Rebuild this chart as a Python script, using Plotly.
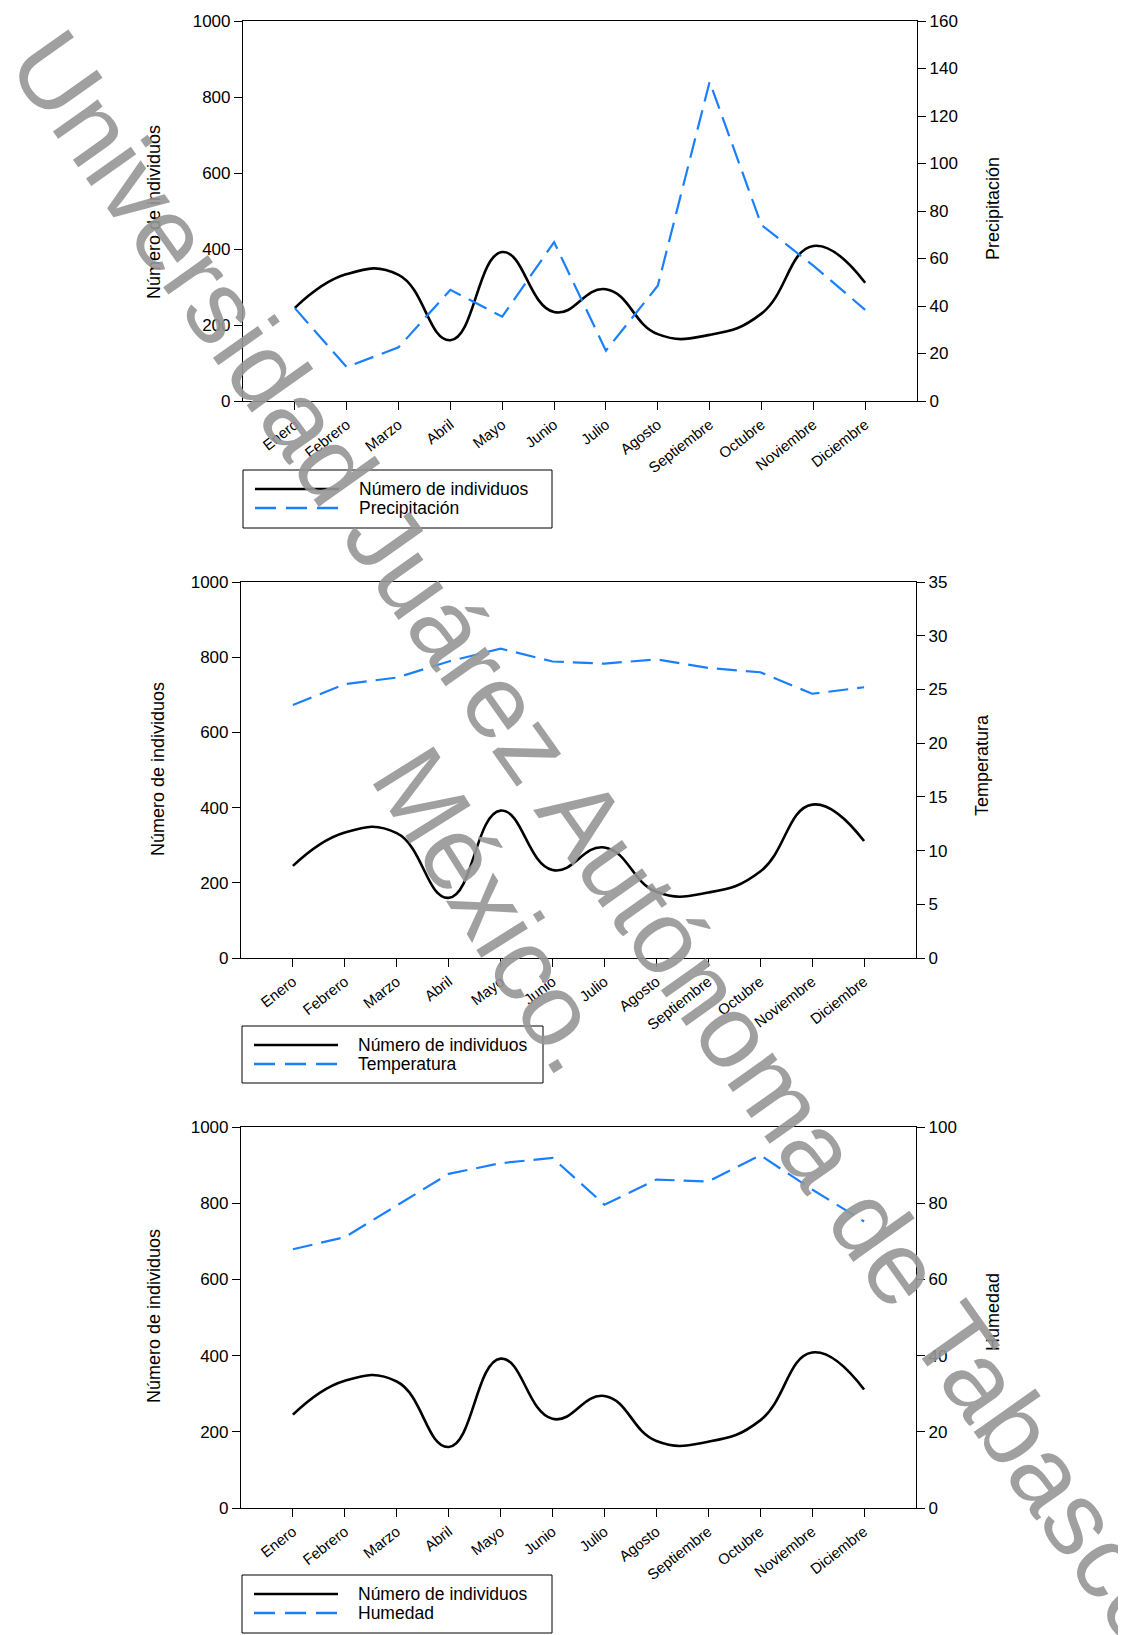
import plotly.graph_objects as go

months = ["Enero", "Febrero", "Marzo", "Abril", "Mayo", "Junio", "Julio",
          "Agosto", "Septiembre", "Octubre", "Noviembre", "Diciembre"]
individuos = [245, 334, 332, 160, 392, 234, 294, 176, 174, 230, 408, 311]
precipitacion = [39.1, 14.3, 22.6, 46.8, 35.5, 66.9, 21.2, 48.5, 134.4, 74.1, 57.0, 38.4]
temperatura = [23.55, 25.5, 26.1, 27.6, 28.8, 27.6, 27.4, 27.8, 27.0, 26.6, 24.6, 25.2]
humedad = [67.9, 71.1, 79.4, 87.7, 90.5, 91.9, 79.6, 86.2, 85.7, 92.6, 83.6, 75.2]

W, H = 1126, 1635
OFF = 8  # page body margin
FONT = "Liberation Sans, Arial, sans-serif"
BLUE = "#1a7fff"
DASH = "20px,9px"
xidx = list(range(len(months)))


def px(v):
    return (v - OFF) / W


def py(v):
    return 1 - (v - OFF) / H


panels = [
    dict(l=243, r=917, t=21, b=401, data=precipitacion, name="Precipitación",
         rng=[0, 160], dtick=20, ltx=154, rtx=993, ty=212,
         box=(243, 470, 552, 528), rows=(489, 508)),
    dict(l=241, r=916, t=582, b=958, data=temperatura, name="Temperatura",
         rng=[0, 35], dtick=5, ltx=158, rtx=982, ty=769,
         box=(242, 1026, 543, 1083), rows=(1045, 1064)),
    dict(l=241, r=916, t=1127, b=1508, data=humedad, name="Humedad",
         rng=[0, 100], dtick=20, ltx=154, rtx=993, ty=1316,
         box=(242, 1575, 552, 1633), rows=(1594, 1613)),
]

fig = go.Figure()
annotations = []
shapes = []
layout = dict(
    width=W, height=H,
    margin=dict(l=0, r=0, t=0, b=0, autoexpand=False),
    paper_bgcolor="white", plot_bgcolor="white",
    font=dict(family=FONT, size=16, color="black"),
    showlegend=False,
)

for i, p in enumerate(panels):
    n = i + 1
    xa = "x" if n == 1 else f"x{n}"
    ya_l = "y" if n == 1 else f"y{2*n-1}"
    ya_r = f"y{2*n}"

    fig.add_trace(go.Scatter(
        x=xidx, y=individuos, mode="lines", name="Número de individuos",
        line=dict(color="black", width=2.6, shape="spline", smoothing=1.3),
        xaxis=xa, yaxis=ya_l))
    fig.add_trace(go.Scatter(
        x=xidx, y=p["data"], mode="lines", name=p["name"],
        line=dict(color=BLUE, width=2.2, dash=DASH),
        xaxis=xa, yaxis=ya_r))

    xkey = "xaxis" if n == 1 else f"xaxis{n}"
    ylkey = "yaxis" if n == 1 else f"yaxis{2*n-1}"
    yrkey = f"yaxis{2*n}"
    layout[xkey] = dict(
        domain=[px(p["l"]), px(p["r"])], anchor=ya_l,
        range=[-1, 12], tickvals=xidx, ticktext=months, tickangle=-38,
        ticks="outside", ticklen=8, tickcolor="black", showgrid=False,
        zeroline=False, showline=True, linecolor="black", linewidth=1.2,
        mirror=True, tickfont=dict(size=15, family=FONT), automargin=False)
    layout[ylkey] = dict(
        domain=[py(p["b"]), py(p["t"])], anchor=xa, range=[0, 1000], dtick=200,
        ticks="outside", ticklen=8, tickcolor="black", showgrid=False,
        zeroline=False, showline=True, linecolor="black", linewidth=1.2,
        tickfont=dict(size=17, family=FONT), automargin=False)
    layout[yrkey] = dict(
        overlaying=ya_l, side="right", anchor=xa, range=p["rng"], dtick=p["dtick"],
        ticks="outside", ticklen=8, tickcolor="black", showgrid=False,
        zeroline=False, showline=True, linecolor="black", linewidth=1.2,
        tickfont=dict(size=17, family=FONT), automargin=False)

    # axis titles
    annotations.append(dict(
        text="Número de individuos", xref="paper", yref="paper",
        x=px(p["ltx"]), y=py(p["ty"]), textangle=-90, showarrow=False,
        xanchor="center", yanchor="middle", font=dict(size=18, family=FONT)))
    annotations.append(dict(
        text=p["name"], xref="paper", yref="paper",
        x=px(p["rtx"]), y=py(p["ty"] - 4), textangle=-90, showarrow=False,
        xanchor="center", yanchor="middle", font=dict(size=18, family=FONT)))

    # legend box
    bx0, by0, bx1, by1 = p["box"]
    shapes.append(dict(type="rect", xref="paper", yref="paper",
                       x0=px(bx0), x1=px(bx1), y0=py(by1), y1=py(by0),
                       line=dict(color="black", width=1), fillcolor="rgba(255,255,255,0)"))
    r1, r2 = p["rows"]
    shapes.append(dict(type="line", xref="paper", yref="paper",
                       x0=px(bx0 + 12), x1=px(bx0 + 96), y0=py(r1), y1=py(r1),
                       line=dict(color="black", width=2.6)))
    shapes.append(dict(type="line", xref="paper", yref="paper",
                       x0=px(bx0 + 12), x1=px(bx0 + 96), y0=py(r2), y1=py(r2),
                       line=dict(color=BLUE, width=2.6, dash="21px,10px")))
    for txt, ry in (("Número de individuos", r1), (p["name"], r2)):
        annotations.append(dict(
            text=txt, xref="paper", yref="paper", x=px(bx0 + 114), y=py(ry),
            xanchor="left", yanchor="middle", showarrow=False,
            font=dict(size=17.5, family=FONT)))

# watermark
WM = "rgba(150,150,150,0.9)"
annotations.append(dict(
    text="Universidad Juárez Autónoma de Tabasco.", xref="paper", yref="paper",
    x=px(605), y=py(849), textangle=54.7, showarrow=False,
    xanchor="center", yanchor="middle", font=dict(size=104, family=FONT, color=WM)))
annotations.append(dict(
    text="México.", xref="paper", yref="paper",
    x=px(494), y=py(910), textangle=58, showarrow=False,
    xanchor="center", yanchor="middle", font=dict(size=104, family=FONT, color=WM)))

layout["annotations"] = annotations
layout["shapes"] = shapes
fig.update_layout(**layout)
fig.write_html("out.html")
